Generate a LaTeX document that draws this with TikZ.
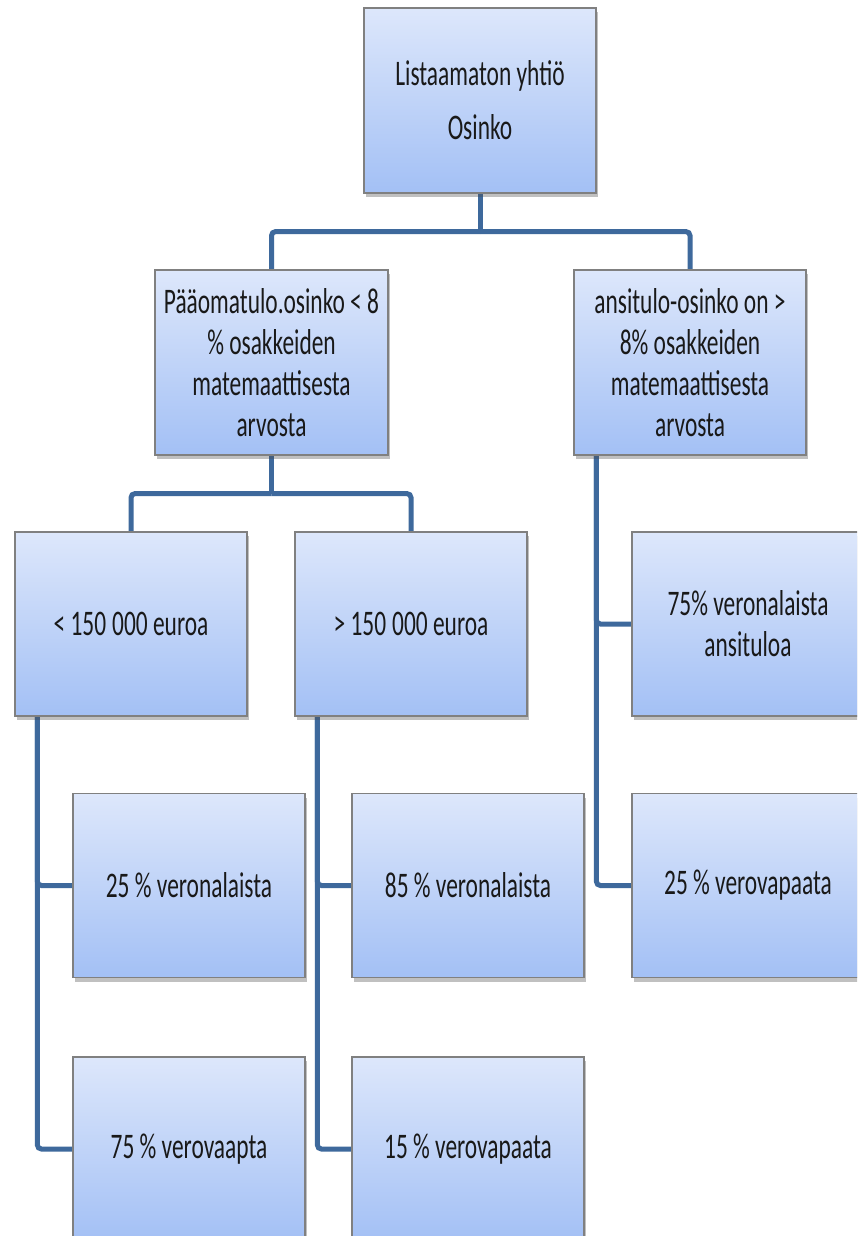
\documentclass[tikz,border=0pt]{standalone}
\usepackage{fontspec}
\setmainfont{Carlito}[FakeStretch=0.65]
\usetikzlibrary{shadows,calc,backgrounds}
\definecolor{boxtop}{RGB}{221,231,251}
\definecolor{boxbot}{RGB}{163,192,245}
\definecolor{boxline}{RGB}{128,128,128}
\definecolor{connc}{RGB}{62,105,156}
\definecolor{txt}{RGB}{25,25,25}
\tikzset{
  orgbox/.style={draw=boxline, line width=1.2pt, top color=boxtop, bottom color=boxbot,
    minimum width=232pt, minimum height=184pt, inner sep=4pt, align=center,
    text=txt, font=\fontsize{36}{41}\selectfont,
    drop shadow={shadow xshift=2pt, shadow yshift=-4pt, opacity=0.35, fill=black!70}},
  conn/.style={draw=connc, line width=5pt, rounded corners=4pt}
}
\begin{document}
\begin{tikzpicture}[x=1pt,y=-1pt]
\clip (0,0) rectangle (857,1236);
\node[orgbox, minimum height=185pt] (top) at (480,100.5) {Listaamaton yhtiö\\[13pt]Osinko};
\node[orgbox, minimum width=233pt, minimum height=185pt] (pa) at (271.5,362.5) {Pääomatulo.osinko < 8\\\% osakkeiden\\matemaattisesta\\arvosta};
\node[orgbox, minimum height=185pt] (ans) at (690,362.5) {ansitulo-osinko on >\\8\% osakkeiden\\matemaattisesta\\arvosta};
\node[orgbox] (lt) at (131,624) {< 150\,000 euroa};
\node[orgbox] (gt) at (411,624) {> 150\,000 euroa};
\node[orgbox] (ansa) at (748,624) {75\% veronalaista\\ansituloa};
\node[orgbox] (v25) at (189,885.5) {25 \% veronalaista};
\node[orgbox] (v85) at (468,885.5) {85 \% veronalaista};
\node[orgbox] (ansb) at (748,885.5) {25 \% verovapaata};
\node[orgbox] (v75) at (189,1149) {75 \% verovaapta};
\node[orgbox] (v15) at (468,1149) {15 \% verovapaata};
\begin{scope}[on background layer]
\fill[white] (0,0) rectangle (857,1236);
\coordinate (j1) at ($(top.south)+(0,38)$);
\draw[conn] (top.south) -- (j1);
\draw[conn] (j1) -| (pa.north);
\draw[conn] (j1) -| (ans.north);
\coordinate (j2) at ($(pa.south)+(0,38)$);
\draw[conn] (pa.south) -- (j2);
\draw[conn] (j2) -| (lt.north);
\draw[conn] (j2) -| (gt.north);
\coordinate (s1) at ($(lt.south west)+(23,0)$);
\draw[conn] (s1) |- (v25.west);
\draw[conn] (s1) |- (v75.west);
\coordinate (s2) at ($(gt.south west)+(23,0)$);
\draw[conn] (s2) |- (v85.west);
\draw[conn] (s2) |- (v15.west);
\coordinate (s3) at ($(ans.south west)+(23,0)$);
\draw[conn] (s3) |- (ansa.west);
\draw[conn] (s3) |- (ansb.west);
\end{scope}
\end{tikzpicture}
\end{document}
